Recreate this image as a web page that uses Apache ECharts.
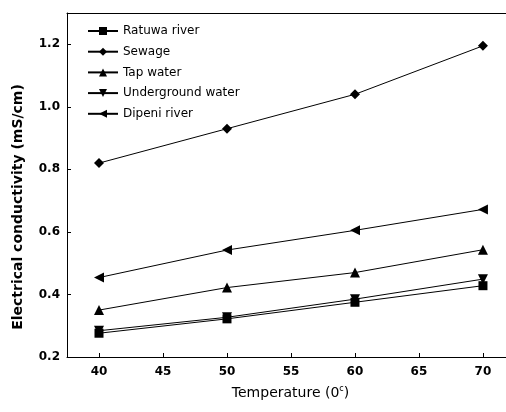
<!DOCTYPE html>
<html>
<head>
<meta charset="utf-8">
<script src="https://cdn.jsdelivr.net/npm/echarts@6/dist/echarts.min.js"></script>
<style>html,body{margin:0;padding:0;background:#fff;}#c{width:506px;height:412px;}</style>
</head>
<body>
<div id="c"></div>
<script>
const temperatures = [40, 50, 60, 70];
const seriesNames = ['Ratuwa river', 'Sewage', 'Tap water', 'Underground water', 'Dipeni river'];
const ratuwa = [0.276, 0.322, 0.375, 0.428];
const sewage = [0.82, 0.93, 1.04, 1.195];
const tapWater = [0.350, 0.422, 0.470, 0.543];
const underground = [0.284, 0.327, 0.385, 0.449];
const dipeni = [0.454, 0.542, 0.605, 0.672];
const xTicks = [40, 45, 50, 55, 60, 65, 70];
const yTicks = [0.2, 0.4, 0.6, 0.8, 1.0, 1.2];

const values = [ratuwa, sewage, tapWater, underground, dipeni];
const symbols = ['rect', 'diamond', 'triangle', 'triangle', 'triangle'];
const rotations = [0, 0, 0, 180, 90];
const sizes = [9, 10, 10, 10, 10];

const chart = echarts.init(document.getElementById('c'));
const font = '"DejaVu Sans", sans-serif';
chart.setOption({
  animation: false,
  backgroundColor: '#fff',
  textStyle: { fontFamily: font },
  grid: { left: 67, top: 13, right: 0, bottom: 55, show: false },
  legend: {
    orient: 'vertical', left: 82, top: 20,
    itemWidth: 30, itemHeight: 10, itemGap: 8.7,
    textStyle: { fontSize: 12, color: '#000', fontFamily: font },
    data: seriesNames
  },
  xAxis: [{
    type: 'value', min: 37.5, max: 71.8,
    name: '{a|Temperature (0}{b|c}{a|)}', nameLocation: 'middle', nameGap: 28,
    nameTextStyle: { padding: [0, 0, 0, 8], rich: { a: { fontSize: 14, color: '#000', fontFamily: font }, b: { fontSize: 8, color: '#000', fontFamily: font, padding: [0, 0, 9, 0] } } },
    axisLine: { show: true, onZero: false, lineStyle: { color: '#000', width: 1 } },
    axisTick: { show: true, inside: true, length: 4, lineStyle: { color: '#000' }, customValues: xTicks },
    axisLabel: { color: '#000', fontWeight: 'bold', fontSize: 12, margin: 9, customValues: xTicks },
    splitLine: { show: false }
  }, {
    type: 'value', min: 37.5, max: 71.8, position: 'top',
    axisLine: { show: true, onZero: false, lineStyle: { color: '#000', width: 1 } },
    axisTick: { show: false }, axisLabel: { show: false }, splitLine: { show: false }
  }],
  yAxis: {
    type: 'value', min: 0.2, max: 1.3,
    name: 'Electrical conductivity (mS/cm)', nameLocation: 'middle', nameGap: 42,
    nameTextStyle: { fontSize: 14, fontWeight: 'bold', color: '#000', fontFamily: font, padding: [0, 44, 0, 0] },
    axisLine: { show: true, onZero: false, lineStyle: { color: '#000', width: 1 } },
    axisTick: { show: true, inside: true, length: 4, lineStyle: { color: '#000' }, customValues: yTicks },
    axisLabel: { color: '#000', fontWeight: 'bold', fontSize: 12, margin: 7, customValues: yTicks, formatter: v => v.toFixed(1) },
    splitLine: { show: false }
  },
  series: seriesNames.map((n, i) => ({
    name: n, type: 'line',
    data: temperatures.map((t, j) => [t, values[i][j]]),
    symbol: symbols[i], symbolSize: sizes[i], symbolRotate: rotations[i],
    lineStyle: { color: '#000', width: 1 },
    itemStyle: { color: '#000' }
  }))
});
</script>
</body>
</html>
